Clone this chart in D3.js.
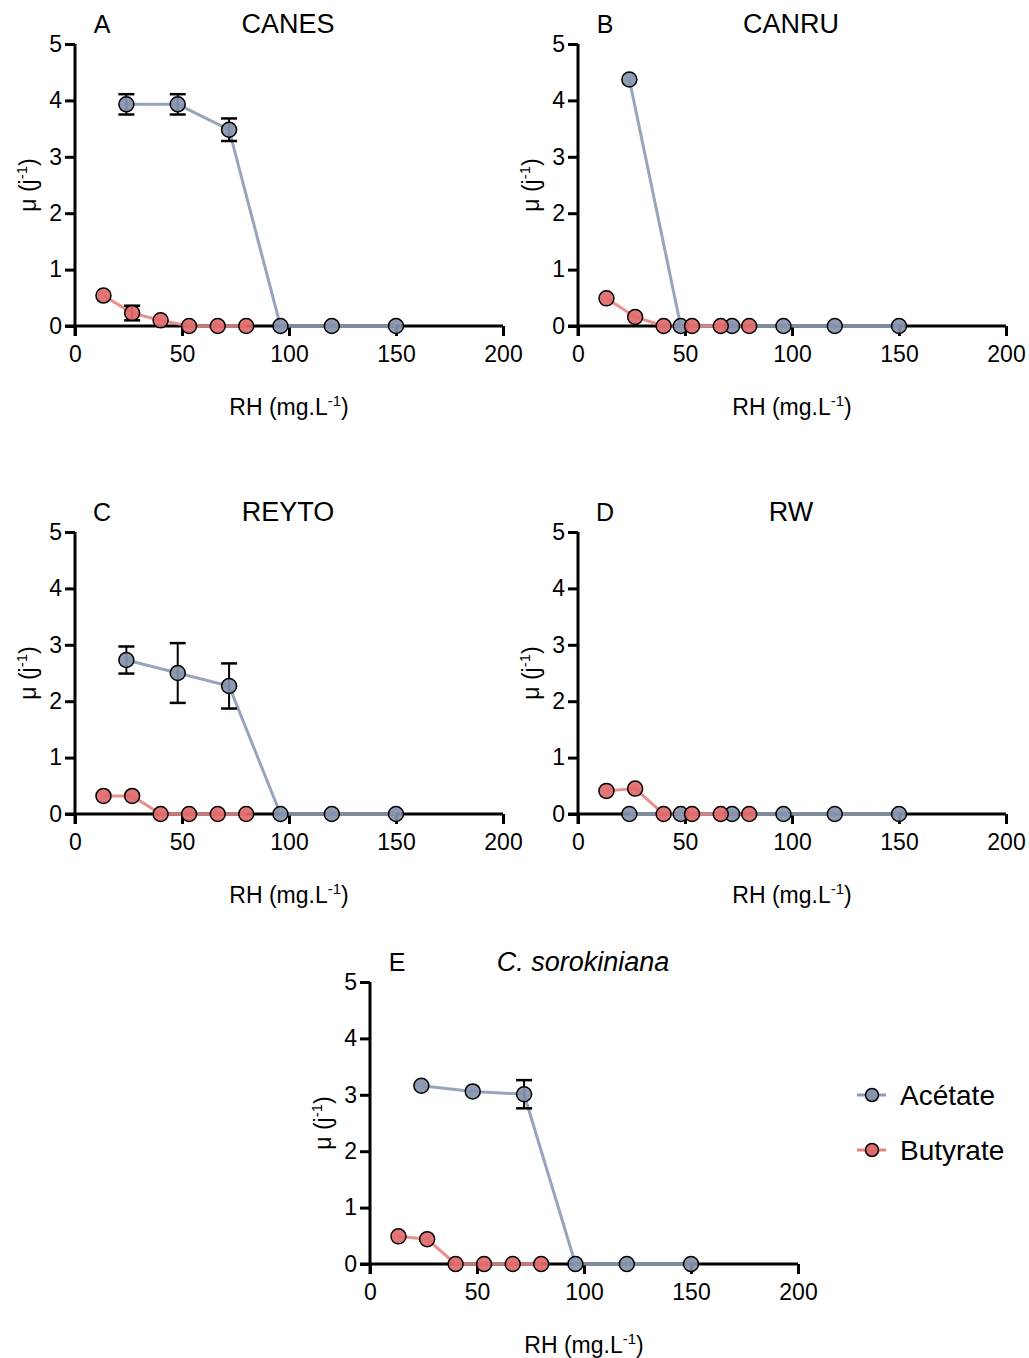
<!DOCTYPE html>
<html lang="fr">
<head>
<meta charset="utf-8">
<script src="https://cdn.jsdelivr.net/npm/d3@7"></script>
<style>
body{margin:0;background:#fff;}
text{font-family:Arial,"Liberation Sans",sans-serif;fill:#000;}
</style>
</head>
<body>
<div id="chart"></div>
<script>
// concentrations (mg/L)
const rhAcetate=[24,48,72,96,120,150]
const rhButyrate=[13.3,26.7,40,53.3,66.7,80]

const panelLetters=["A","B","C","D","E"]
const panelTitles=["CANES","CANRU","REYTO","RW","C. sorokiniana"]

// growth rate mu (j-1), one array per panel
const acetateA=[3.93,3.93,3.48,0,0,0]
const acetateB=[4.37,0,0,0,0,0]
const acetateC=[2.73,2.50,2.27,0,0,0]
const acetateD=[0,0,0,0,0,0]
const acetateE=[3.16,3.06,3.01,0,0,0]
const acetateErrA=[0.18,0.18,0.2,0,0,0]
const acetateErrB=[0,0,0,0,0,0]
const acetateErrC=[0.24,0.53,0.4,0,0,0]
const acetateErrD=[0,0,0,0,0,0]
const acetateErrE=[0,0,0.25,0,0,0]

const butyrateA=[0.54,0.23,0.10,0,0,0]
const butyrateB=[0.49,0.16,0,0,0,0]
const butyrateC=[0.32,0.32,0,0,0,0]
const butyrateD=[0.41,0.45,0,0,0,0]
const butyrateE=[0.49,0.44,0,0,0,0]
const butyrateErrA=[0,0.13,0,0,0,0]
const butyrateErrB=[0,0,0,0,0,0]
const butyrateErrC=[0,0,0,0,0,0]
const butyrateErrD=[0,0,0,0,0,0]
const butyrateErrE=[0,0,0,0,0,0]

const xTicks=[0,50,100,150,200]
const yTicks=[0,1,2,3,4,5]
const seriesNames=["Acétate","Butyrate"]

const acetates=[acetateA,acetateB,acetateC,acetateD,acetateE]
const acetateErrs=[acetateErrA,acetateErrB,acetateErrC,acetateErrD,acetateErrE]
const butyrates=[butyrateA,butyrateB,butyrateC,butyrateD,butyrateE]
const butyrateErrs=[butyrateErrA,butyrateErrB,butyrateErrC,butyrateErrD,butyrateErrE]

const colors={
  acetate:{fill:"#8593ad",line:"#8d9ab4"},
  butyrate:{fill:"#e06a6a",line:"#e88181"}
}

// panel origins (left of x axis, top of y axis)
const layout=[{x:75,y:44},{x:578,y:44},{x:75,y:532},{x:578,y:532},{x:370,y:982}]
const W=428,H=282

const svg=d3.select("#chart").append("svg").attr("width",1029).attr("height",1358)

panelLetters.forEach((letter,i)=>{
const p=layout[i]
const g=svg.append("g").attr("transform","translate("+p.x+","+p.y+")")
const x=d3.scaleLinear().domain([0,200]).range([0,W])
const y=d3.scaleLinear().domain([0,5]).range([H,0])

// titles
g.append("text").attr("x",27).attr("y",-11).attr("text-anchor","middle").style("font-size","25px").text(letter)
g.append("text").attr("x",W/2-1).attr("y",-11).attr("text-anchor","middle").style("font-size","27px")
  .style("font-style",i==4?"italic":"normal").text(panelTitles[i])

// axes
const xa=g.append("g").attr("transform","translate(0,"+H+")")
  .call(d3.axisBottom(x).tickValues(xTicks).tickFormat(d3.format("d")).tickSize(10).tickSizeOuter(0).tickPadding(10))
const ya=g.append("g")
  .call(d3.axisLeft(y).tickValues(yTicks).tickFormat(d3.format("d")).tickSize(10).tickSizeOuter(0).tickPadding(3))
;[xa,ya].forEach(a=>{
  a.attr("font-family",null).attr("font-size",null)
  a.select(".domain").attr("stroke","#000").attr("stroke-width",3)
  a.selectAll(".tick line").attr("stroke","#000").attr("stroke-width",3)
  a.selectAll(".tick text").style("font-size","23px").attr("fill","#000")
})
ya.select(".domain").attr("d","M0,"+(H+10)+"V0")
xa.select(".domain").attr("d","M-10,0H"+W)

// axis labels
const xl=g.append("text").attr("x",W/2).attr("y",H+89).attr("text-anchor","middle").style("font-size","23px")
xl.append("tspan").text("RH (mg.L")
xl.append("tspan").attr("dy",-9).style("font-size","15px").text("-1")
xl.append("tspan").attr("dy",9).text(")")
const yl=g.append("text").attr("transform","translate(-39,"+(H/2)+") rotate(-90)").attr("text-anchor","middle").style("font-size","23px")
yl.append("tspan").text("μ (j")
yl.append("tspan").attr("dy",-9).style("font-size","15px").text("-1")
yl.append("tspan").attr("dy",9).text(")")

const line=d3.line().x(d=>x(d.rh)).y(d=>y(d.v))
const series=[
  {key:"acetate",data:rhAcetate.map((r,k)=>({rh:r,v:acetates[i][k],e:acetateErrs[i][k]}))},
  {key:"butyrate",data:rhButyrate.map((r,k)=>({rh:r,v:butyrates[i][k],e:butyrateErrs[i][k]}))}
]
series.forEach(s=>{
  g.append("path").datum(s.data).attr("d",line).attr("fill","none")
    .attr("stroke",colors[s.key].line).attr("stroke-width",3).attr("opacity",0.9)
})
series.forEach(s=>{
  const eb=g.append("g").selectAll("g").data(s.data.filter(d=>d.e>0)).join("g")
  eb.append("line").attr("x1",d=>x(d.rh)).attr("x2",d=>x(d.rh)).attr("y1",d=>y(d.v+d.e)).attr("y2",d=>y(d.v-d.e))
    .attr("stroke","#000").attr("stroke-width",2)
  ;[1,-1].forEach(sg=>{
    eb.append("line").attr("x1",d=>x(d.rh)-8).attr("x2",d=>x(d.rh)+8).attr("y1",d=>y(d.v+sg*d.e)).attr("y2",d=>y(d.v+sg*d.e))
      .attr("stroke","#000").attr("stroke-width",2.5)
  })
  g.append("g").selectAll("circle").data(s.data).join("circle")
    .attr("cx",d=>x(d.rh)).attr("cy",d=>y(d.v)).attr("r",7.5)
    .attr("fill",colors[s.key].fill).attr("fill-opacity",0.92)
    .attr("stroke","#000").attr("stroke-width",1.5)
})
})

// legend
const leg=svg.append("g").attr("transform","translate(857,1095)")
;["acetate","butyrate"].forEach((k,j)=>{
  const r=leg.append("g").attr("transform","translate(0,"+(j*55)+")")
  r.append("line").attr("x1",0).attr("x2",29).attr("stroke",colors[k].line).attr("stroke-width",3)
  r.append("circle").attr("cx",15).attr("r",6.5).attr("fill",colors[k].fill).attr("stroke","#000").attr("stroke-width",1.5)
  r.append("text").attr("x",43).attr("y",10).style("font-size","28px").text(seriesNames[j])
})
</script>
</body>
</html>
